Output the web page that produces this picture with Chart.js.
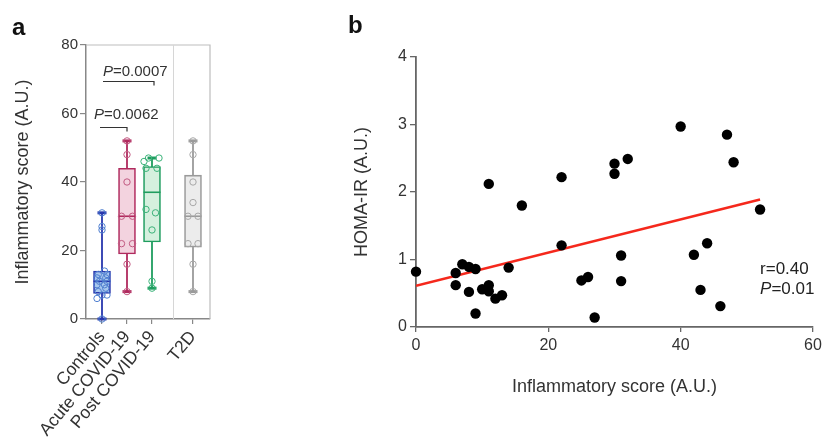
<!DOCTYPE html>
<html>
<head>
<meta charset="utf-8">
<script src="https://cdn.jsdelivr.net/npm/chart.js@4/dist/chart.umd.min.js"></script>
<style>
  html, body { margin:0; padding:0; background:#fff; }
  #wrap { position:relative; width:826px; height:448px; overflow:hidden; background:#fff; }
  canvas { position:absolute; top:0; }
  .panel { position:absolute; font-family:"Liberation Sans", Arial, sans-serif; font-weight:bold; font-size:24px; line-height:24px; color:#111; }
</style>
</head>
<body>
<div id="wrap">
  <canvas id="ca" width="230" height="448" style="left:0px"></canvas>
  <canvas id="cb" width="486" height="448" style="left:340px"></canvas>
  <div class="panel" style="left:12px; top:15px;">a</div>
  <div class="panel" style="left:348px; top:13px;">b</div>
</div>
<script>
// ---------------- Panel a data ----------------
const catLabels = ['Controls', 'Acute COVID-19', 'Post COVID-19', 'T2D'];
const catPos = [1, 2, 3, 4.64];
const boxMin = [0, 8, 9, 8];
const boxQ1 = [7.5, 19, 22.5, 21];
const boxMedian = [11, 30, 37, 30];
const boxQ3 = [14, 44, 44.5, 42];
const boxMax = [31, 52, 47, 52];

const controlsVals = [0, 6, 7, 7, 8, 9, 10, 10, 11, 11, 12, 12, 13, 13, 14, 26, 27, 31];
const controlsJit  = [0, -0.2, 0, 0.2, -0.15, 0.15, -0.2, 0.1, 0.2, -0.1, -0.2, 0.15, 0.2, -0.15, 0.1, 0, 0, 0];
const acuteVals = [8, 16, 22, 22, 30, 30, 40, 48, 52];
const acuteJit  = [0, 0, -0.22, 0.22, -0.22, 0.22, 0, 0, 0];
const postVals = [9, 11, 26, 31, 32, 44, 44, 46, 47, 47];
const postJit  = [0, 0, 0, 0.14, -0.24, -0.24, 0.2, -0.32, -0.14, 0.28];
const t2dVals = [8, 16, 22, 22, 30, 30, 34, 40, 48, 52];
const t2dJit  = [0, 0, -0.2, 0.2, -0.2, 0.2, 0, 0, 0, 0];

const groupLine  = ['#2837ad', '#b02a5e', '#1f9d5f', '#9a9a9a'];
const groupFill  = ['#a9c8ee', '#f3d3df', '#d5f0de', '#ececec'];
const groupPoint = ['#4f7fd0', '#c25a82', '#3cb37a', '#a8a8a8'];

// significance annotations
const brLeft  = [0.92, 1.04];
const brRight = [2.0, 3.08];
const brY     = [56.2, 69.6];
const brText  = ['=0.0062', '=0.0007'];
const brTextX = [0.68, 1.04];
const brTextY = [58.4, 70.9];

// ---------------- Panel b data ----------------
const scoreX = [0, 6, 6, 7, 8, 9, 8, 9, 10, 11, 11, 12, 13, 14, 11, 16, 22, 22, 25, 26, 27, 30, 30, 32, 31, 31, 40, 42, 44, 43, 46, 47, 48, 52];
const homaY  = [0.82, 0.80, 0.62, 0.93, 0.89, 0.86, 0.52, 0.20, 0.56, 0.62, 0.53, 0.42, 0.47, 0.88, 2.12, 1.80, 2.22, 1.21, 0.69, 0.74, 0.14, 2.42, 2.27, 2.49, 1.06, 0.68, 2.97, 1.07, 1.24, 0.55, 0.31, 2.85, 2.44, 1.74];
const fitX = [0, 52];
const fitY = [0.61, 1.89];
const statsText = ['r=0.40', '=0.01'];

const FONT = '"Liberation Sans", Arial, sans-serif';
Chart.defaults.font.family = FONT;
Chart.defaults.color = '#333';

// ---------------- Panel a ----------------
const groupsVals = [controlsVals, acuteVals, postVals, t2dVals];
const groupsJit = [controlsJit, acuteJit, postJit, t2dJit];

const dsA = [];
// whiskers
catPos.forEach((x, g) => {
  dsA.push({
    type: 'scatter', showLine: true, order: 4, clip: false,
    data: [{x: x, y: boxMin[g]}, {x: x, y: boxMax[g]}],
    borderColor: groupLine[g], borderWidth: 1.8,
    pointStyle: 'line', pointRadius: 4.5, pointBorderWidth: 3,
    pointBorderColor: groupLine[g], pointBackgroundColor: groupLine[g]
  });
});
// boxes
dsA.push({
  type: 'bar', order: 3,
  data: catPos.map((x, g) => ({x: x, y: [boxQ1[g], boxQ3[g]]})),
  backgroundColor: groupFill, borderColor: groupLine, borderWidth: 1.6,
  borderSkipped: false, barThickness: 17
});
// medians
dsA.push({
  type: 'scatter', order: 2,
  data: catPos.map((x, g) => ({x: x, y: boxMedian[g]})),
  pointStyle: 'line', pointRadius: 8.5, pointBorderWidth: 1.6,
  pointBorderColor: groupLine, borderColor: groupLine
});
// individual points
catPos.forEach((x, g) => {
  dsA.push({
    type: 'scatter', order: 1, clip: false,
    data: groupsVals[g].map((v, i) => ({x: x + groupsJit[g][i], y: v})),
    pointRadius: 3.2, pointBorderWidth: 1,
    pointBorderColor: groupPoint[g], pointBackgroundColor: 'rgba(255,255,255,0)'
  });
});

const frameA = {
  id: 'frameA',
  beforeDatasetsDraw(chart) {
    const {ctx, chartArea: a, scales: {x}} = chart;
    ctx.save();
    ctx.strokeStyle = '#bdbdbd';
    ctx.lineWidth = 1.2;
    ctx.beginPath();
    ctx.moveTo(a.left, a.top); ctx.lineTo(a.right, a.top); ctx.lineTo(a.right, a.bottom);
    ctx.stroke();
    ctx.strokeStyle = '#d6d6d6';
    ctx.lineWidth = 1;
    const dx = Math.round(x.getPixelForValue(3.84)) + 0.5;
    ctx.beginPath(); ctx.moveTo(dx, a.top); ctx.lineTo(dx, a.bottom); ctx.stroke();
    ctx.restore();
  },
  afterDraw(chart) {
    const {ctx, scales: {x, y}} = chart;
    ctx.save();
    ctx.strokeStyle = '#333'; ctx.lineWidth = 1.2; ctx.fillStyle = '#333';
    for (let i = 0; i < brY.length; i++) {
      const x1 = x.getPixelForValue(brLeft[i]), x2 = x.getPixelForValue(brRight[i]);
      const yy = Math.round(y.getPixelForValue(brY[i])) + 0.5;
      ctx.beginPath(); ctx.moveTo(x1, yy); ctx.lineTo(x2, yy); ctx.lineTo(x2, yy + 4); ctx.stroke();
      const tx = x.getPixelForValue(brTextX[i]), ty = y.getPixelForValue(brTextY[i]);
      ctx.textBaseline = 'alphabetic'; ctx.textAlign = 'left';
      ctx.font = 'italic 15px ' + FONT;
      ctx.fillText('P', tx, ty);
      const w = ctx.measureText('P').width;
      ctx.font = '15px ' + FONT;
      ctx.fillText(brText[i], tx + w, ty);
    }
    ctx.restore();
  }
};

new Chart(document.getElementById('ca'), {
  type: 'bar',
  data: {datasets: dsA},
  options: {
    responsive: false, animation: false,
    layout: {padding: {top: 45, right: 20, left: 0, bottom: 0}},
    plugins: {legend: {display: false}, tooltip: {enabled: false}},
    scales: {
      x: {
        type: 'linear', min: 0.36, max: 5.32, offset: false,
        grid: {display: true, offset: false, drawOnChartArea: false, drawTicks: true, tickLength: 5, color: '#888', lineWidth: 1.2},
        border: {display: true, color: '#888', width: 1.5},
        afterBuildTicks: s => { s.ticks = catPos.map(v => ({value: v})); },
        afterFit: s => { s.height = 129; s.paddingLeft = 0; s.paddingRight = 0; },
        ticks: {autoSkip: false, maxRotation: 50, minRotation: 50, padding: 3, color: '#333',
                font: {size: 17.5}, callback: (v, i) => catLabels[i]}
      },
      y: {
        min: 0, max: 80,
        grid: {display: true, drawOnChartArea: false, drawTicks: true, tickLength: 6, color: '#888', lineWidth: 1.2},
        border: {display: true, color: '#888', width: 1.5},
        afterFit: s => { s.width = 86; s.paddingTop = 0; s.paddingBottom = 0; },
        ticks: {stepSize: 20, padding: 2, color: '#333', font: {size: 15}},
        title: {display: true, text: 'Inflammatory score (A.U.)', color: '#333', font: {size: 18}, padding: {top: 12, bottom: 0}}
      }
    }
  },
  plugins: [frameA]
});

// ---------------- Panel b ----------------
const statsPlugin = {
  id: 'statsB',
  afterDraw(chart) {
    const {ctx, scales: {x, y}} = chart;
    ctx.save();
    ctx.fillStyle = '#222'; ctx.textAlign = 'left'; ctx.textBaseline = 'middle';
    const tx = x.getPixelForValue(52);
    ctx.font = '17px ' + FONT;
    ctx.fillText(statsText[0], tx, y.getPixelForValue(0.85));
    ctx.font = 'italic 17px ' + FONT;
    ctx.fillText('P', tx, y.getPixelForValue(0.56));
    const w = ctx.measureText('P').width;
    ctx.font = '17px ' + FONT;
    ctx.fillText(statsText[1], tx + w, y.getPixelForValue(0.56));
    ctx.restore();
  }
};

new Chart(document.getElementById('cb'), {
  type: 'scatter',
  data: {
    datasets: [
      {
        order: 0, clip: false,
        data: scoreX.map((v, i) => ({x: v, y: homaY[i]})),
        pointRadius: 5.2, pointBackgroundColor: '#000', pointBorderColor: '#000', pointBorderWidth: 0
      },
      {
        order: 1, showLine: true,
        data: fitX.map((v, i) => ({x: v, y: fitY[i]})),
        borderColor: '#f5281c', borderWidth: 2.5, pointRadius: 0
      }
    ]
  },
  options: {
    responsive: false, animation: false,
    layout: {padding: {top: 57, right: 13, left: 0, bottom: 0}},
    plugins: {legend: {display: false}, tooltip: {enabled: false}},
    scales: {
      x: {
        type: 'linear', min: 0, max: 60,
        grid: {display: true, drawOnChartArea: false, drawTicks: true, tickLength: 5, color: '#666', lineWidth: 1.3},
        border: {display: true, color: '#666', width: 1.8},
        afterFit: s => { s.height = 121; s.paddingLeft = 0; s.paddingRight = 0; },
        ticks: {stepSize: 20, padding: 4, color: '#333', font: {size: 16}, maxRotation: 0},
        title: {display: true, text: 'Inflammatory score (A.U.)', color: '#333', font: {size: 18}, padding: {top: 0, bottom: 50}}
      },
      y: {
        min: 0, max: 4,
        grid: {display: true, drawOnChartArea: false, drawTicks: true, tickLength: 6, color: '#666', lineWidth: 1.3},
        border: {display: true, color: '#666', width: 1.8},
        afterFit: s => { s.width = 76; s.paddingTop = 0; s.paddingBottom = 0; },
        ticks: {stepSize: 1, padding: 3, color: '#333', font: {size: 16}},
        title: {display: true, text: 'HOMA-IR (A.U.)', color: '#333', font: {size: 18}, padding: {top: 11, bottom: 0}}
      }
    }
  },
  plugins: [statsPlugin]
});
</script>
</body>
</html>
